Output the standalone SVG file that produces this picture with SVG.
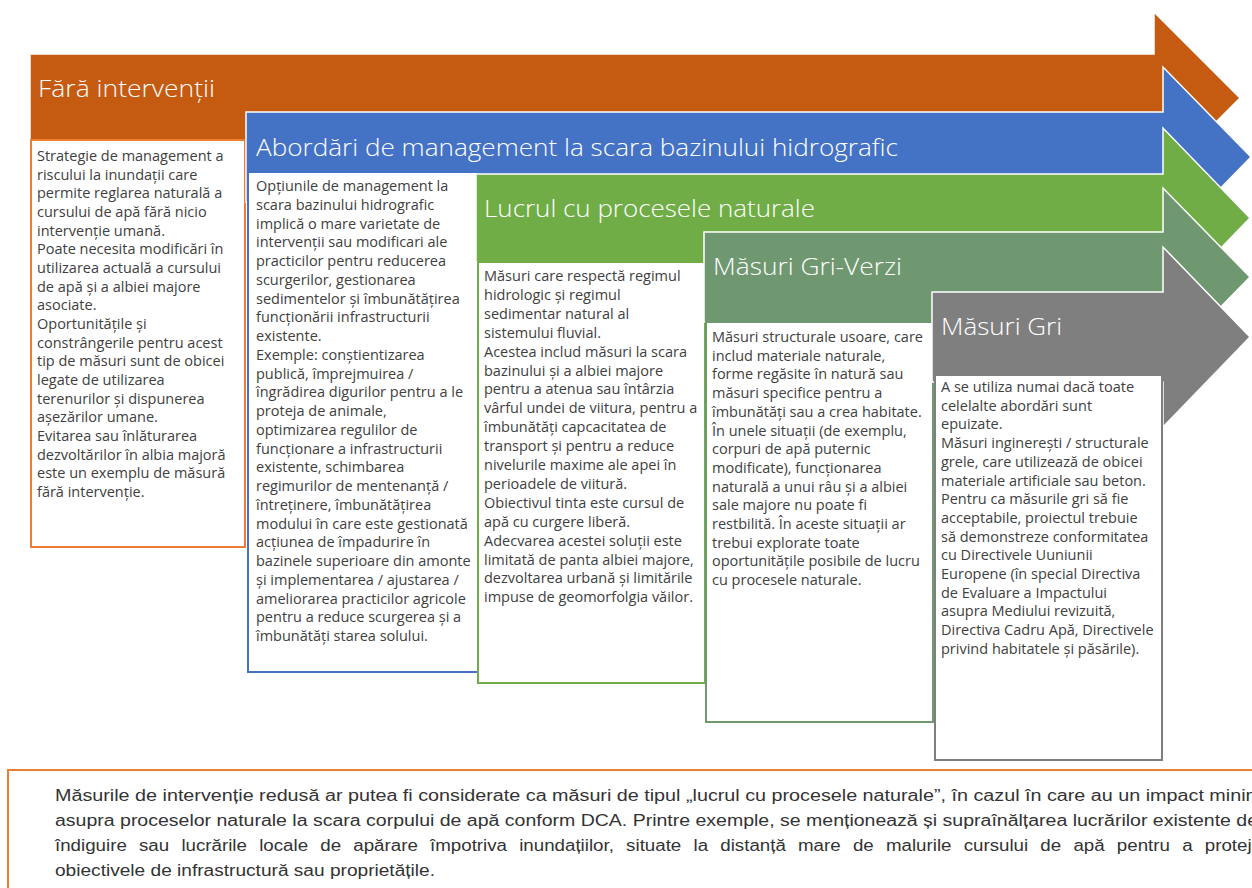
<svg xmlns="http://www.w3.org/2000/svg" width="1252" height="888" viewBox="0 0 1252 888">
<style>
.arrow{stroke:#ffffff;stroke-width:1.5;stroke-linejoin:miter}
.box{fill:#ffffff;stroke-width:2}
.hdr{font-family:"Open Sans","Liberation Sans",sans-serif;font-size:24px;font-weight:300;fill:#ffffff}
.body{font-family:"Open Sans","Liberation Sans",sans-serif;font-size:14.5px;fill:#404040}
.note{font-family:"Liberation Sans","Open Sans",sans-serif;font-size:16px;fill:#333333}
</style>
<rect width="1252" height="888" fill="#ffffff"/>
<g id="connectors"></g>

<g id="node-fara">
<polygon class="arrow" fill="#C55A11" points="30,54 1154,54 1154,12 1240,98 1154,184 1154,140 30,140"/>
<rect class="box" stroke="#ED7D31" x="31" y="140" width="214" height="407"/>
<text class="hdr" x="38" y="97" textLength="177" lengthAdjust="spacingAndGlyphs">Fără intervenții</text>
<text class="body" x="37">
<tspan x="37" y="161">Strategie de management a</tspan>
<tspan x="37" dy="18.67">riscului la inundații care</tspan>
<tspan x="37" dy="18.67">permite reglarea naturală a</tspan>
<tspan x="37" dy="18.67">cursului de apă fără nicio</tspan>
<tspan x="37" dy="18.67">intervenție umană.</tspan>
<tspan x="37" dy="18.67">Poate necesita modificări în</tspan>
<tspan x="37" dy="18.67">utilizarea actuală a cursului</tspan>
<tspan x="37" dy="18.67">de apă și a albiei majore</tspan>
<tspan x="37" dy="18.67">asociate.</tspan>
<tspan x="37" dy="18.67">Oportunitățile și</tspan>
<tspan x="37" dy="18.67">constrângerile pentru acest</tspan>
<tspan x="37" dy="18.67">tip de măsuri sunt de obicei</tspan>
<tspan x="37" dy="18.67">legate de utilizarea</tspan>
<tspan x="37" dy="18.67">terenurilor și dispunerea</tspan>
<tspan x="37" dy="18.67">așezărilor umane.</tspan>
<tspan x="37" dy="18.67">Evitarea sau înlăturarea</tspan>
<tspan x="37" dy="18.67">dezvoltărilor în albia majoră</tspan>
<tspan x="37" dy="18.67">este un exemplu de măsură</tspan>
<tspan x="37" dy="18.67">fără intervenție.</tspan>
</text>
</g>

<g id="node-bazin">
<polygon class="arrow" fill="#4472C4" points="246,112 1163,112 1163,67 1251,157 1163,247 1163,202 246,202"/>
<rect class="box" stroke="#4472C4" x="248" y="172" width="230" height="500"/>
<text class="hdr" x="256" y="156" textLength="642" lengthAdjust="spacingAndGlyphs">Abordări de management la scara bazinului hidrografic</text>
<text class="body" x="256">
<tspan x="256" y="191">Opțiunile de management la</tspan>
<tspan x="256" dy="18.75">scara bazinului hidrografic</tspan>
<tspan x="256" dy="18.75">implică o mare varietate de</tspan>
<tspan x="256" dy="18.75">intervenții sau modificari ale</tspan>
<tspan x="256" dy="18.75">practicilor pentru reducerea</tspan>
<tspan x="256" dy="18.75">scurgerilor, gestionarea</tspan>
<tspan x="256" dy="18.75">sedimentelor și îmbunătățirea</tspan>
<tspan x="256" dy="18.75">funcționării infrastructurii</tspan>
<tspan x="256" dy="18.75">existente.</tspan>
<tspan x="256" dy="18.75">Exemple: conștientizarea</tspan>
<tspan x="256" dy="18.75">publică, împrejmuirea /</tspan>
<tspan x="256" dy="18.75">îngrădirea digurilor pentru a le</tspan>
<tspan x="256" dy="18.75">proteja de animale,</tspan>
<tspan x="256" dy="18.75">optimizarea regulilor de</tspan>
<tspan x="256" dy="18.75">funcționare a infrastructurii</tspan>
<tspan x="256" dy="18.75">existente, schimbarea</tspan>
<tspan x="256" dy="18.75">regimurilor de mentenanță /</tspan>
<tspan x="256" dy="18.75">întreținere, îmbunătățirea</tspan>
<tspan x="256" dy="18.75">modului în care este gestionată</tspan>
<tspan x="256" dy="18.75">acțiunea de împadurire în</tspan>
<tspan x="256" dy="18.75">bazinele superioare din amonte</tspan>
<tspan x="256" dy="18.75">și implementarea / ajustarea /</tspan>
<tspan x="256" dy="18.75">ameliorarea practicilor agricole</tspan>
<tspan x="256" dy="18.75">pentru a reduce scurgerea și a</tspan>
<tspan x="256" dy="18.75">îmbunătăți starea solului.</tspan>
</text>
</g>

<g id="node-procese">
<polygon class="arrow" fill="#70AD47" points="476,174 1163,174 1163,128 1250,218 1163,308 1163,262 476,262"/>
<rect class="box" stroke="#70AD47" x="478" y="262" width="227" height="421"/>
<text class="hdr" x="484" y="217" textLength="331" lengthAdjust="spacingAndGlyphs">Lucrul cu procesele naturale</text>
<text class="body" x="484">
<tspan x="484" y="281">Măsuri care respectă regimul</tspan>
<tspan x="484" dy="18.9">hidrologic și regimul</tspan>
<tspan x="484" dy="18.9">sedimentar natural al</tspan>
<tspan x="484" dy="18.9">sistemului fluvial.</tspan>
<tspan x="484" dy="18.9">Acestea includ măsuri la scara</tspan>
<tspan x="484" dy="18.9">bazinului și a albiei majore</tspan>
<tspan x="484" dy="18.9">pentru a atenua sau întârzia</tspan>
<tspan x="484" dy="18.9">vârful undei de viitura, pentru a</tspan>
<tspan x="484" dy="18.9">îmbunătăți capcacitatea de</tspan>
<tspan x="484" dy="18.9">transport și pentru a reduce</tspan>
<tspan x="484" dy="18.9">nivelurile maxime ale apei în</tspan>
<tspan x="484" dy="18.9">perioadele de viitură.</tspan>
<tspan x="484" dy="18.9">Obiectivul tinta este cursul de</tspan>
<tspan x="484" dy="18.9">apă cu curgere liberă.</tspan>
<tspan x="484" dy="18.9">Adecvarea acestei soluții este</tspan>
<tspan x="484" dy="18.9">limitată de panta albiei majore,</tspan>
<tspan x="484" dy="18.9">dezvoltarea urbană și limitările</tspan>
<tspan x="484" dy="18.9">impuse de geomorfolgia văilor.</tspan>
</text>
</g>

<g id="node-gri-verzi">
<polygon class="arrow" fill="#6F9870" points="704,232 1163,232 1163,188 1250,277 1163,366 1163,322 704,322"/>
<rect class="box" stroke="#6F9870" x="706" y="322" width="227" height="400"/>
<text class="hdr" x="713" y="275" textLength="189" lengthAdjust="spacingAndGlyphs">Măsuri Gri-Verzi</text>
<text class="body" x="712">
<tspan x="712" y="342">Măsuri structurale usoare, care</tspan>
<tspan x="712" dy="18.7">includ materiale naturale,</tspan>
<tspan x="712" dy="18.7">forme regăsite în natură sau</tspan>
<tspan x="712" dy="18.7">măsuri specifice pentru a</tspan>
<tspan x="712" dy="18.7">îmbunătăți sau a crea habitate.</tspan>
<tspan x="712" dy="18.7">În unele situații (de exemplu,</tspan>
<tspan x="712" dy="18.7">corpuri de apă puternic</tspan>
<tspan x="712" dy="18.7">modificate), funcționarea</tspan>
<tspan x="712" dy="18.7">naturală a unui râu și a albiei</tspan>
<tspan x="712" dy="18.7">sale majore nu poate fi</tspan>
<tspan x="712" dy="18.7">restbilită. În aceste situații ar</tspan>
<tspan x="712" dy="18.7">trebui explorate toate</tspan>
<tspan x="712" dy="18.7">oportunitățile posibile de lucru</tspan>
<tspan x="712" dy="18.7">cu procesele naturale.</tspan>
</text>
</g>

<g id="node-gri">
<polygon class="arrow" fill="#7F7F7F" points="932,292 1163,292 1163,247 1250,337 1163,427 1163,382 932,382"/>
<rect class="box" stroke="#7F7F7F" x="935" y="375" width="227" height="385"/>
<text class="hdr" x="941" y="335" textLength="121" lengthAdjust="spacingAndGlyphs">Măsuri Gri</text>
<text class="body" x="941">
<tspan x="941" y="392">A se utiliza numai dacă toate</tspan>
<tspan x="941" dy="18.7">celelalte abordări sunt</tspan>
<tspan x="941" dy="18.7">epuizate.</tspan>
<tspan x="941" dy="18.7">Măsuri inginerești / structurale</tspan>
<tspan x="941" dy="18.7">grele, care utilizează de obicei</tspan>
<tspan x="941" dy="18.7">materiale artificiale sau beton.</tspan>
<tspan x="941" dy="18.7">Pentru ca măsurile gri să fie</tspan>
<tspan x="941" dy="18.7">acceptabile, proiectul trebuie</tspan>
<tspan x="941" dy="18.7">să demonstreze conformitatea</tspan>
<tspan x="941" dy="18.7">cu Directivele Uuniunii</tspan>
<tspan x="941" dy="18.7">Europene (în special Directiva</tspan>
<tspan x="941" dy="18.7">de Evaluare a Impactului</tspan>
<tspan x="941" dy="18.7">asupra Mediului revizuită,</tspan>
<tspan x="941" dy="18.7">Directiva Cadru Apă, Directivele</tspan>
<tspan x="941" dy="18.7">privind habitatele și păsările).</tspan>
</text>
</g>

<g id="node-nota">
<rect class="box" stroke="#ED7D31" x="8" y="770" width="1270" height="140"/>
<text class="note" x="55" y="801" textLength="1207" lengthAdjust="spacingAndGlyphs">Măsurile de intervenție redusă ar putea fi considerate ca măsuri de tipul „lucrul cu procesele naturale”, în cazul în care au un impact minim</text>
<text class="note" x="55" y="826" textLength="1203" lengthAdjust="spacingAndGlyphs">asupra proceselor naturale la scara corpului de apă conform DCA. Printre exemple, se menționează și supraînălțarea lucrărilor existente de</text>
<text class="note" x="55" y="851" word-spacing="6" textLength="1207" lengthAdjust="spacingAndGlyphs">îndiguire sau lucrările locale de apărare împotriva inundațiilor, situate la distanță mare de malurile cursului de apă pentru a proteja</text>
<text class="note" x="55" y="876" textLength="380" lengthAdjust="spacingAndGlyphs">obiectivele de infrastructură sau proprietățile.</text>
</g>
</svg>
